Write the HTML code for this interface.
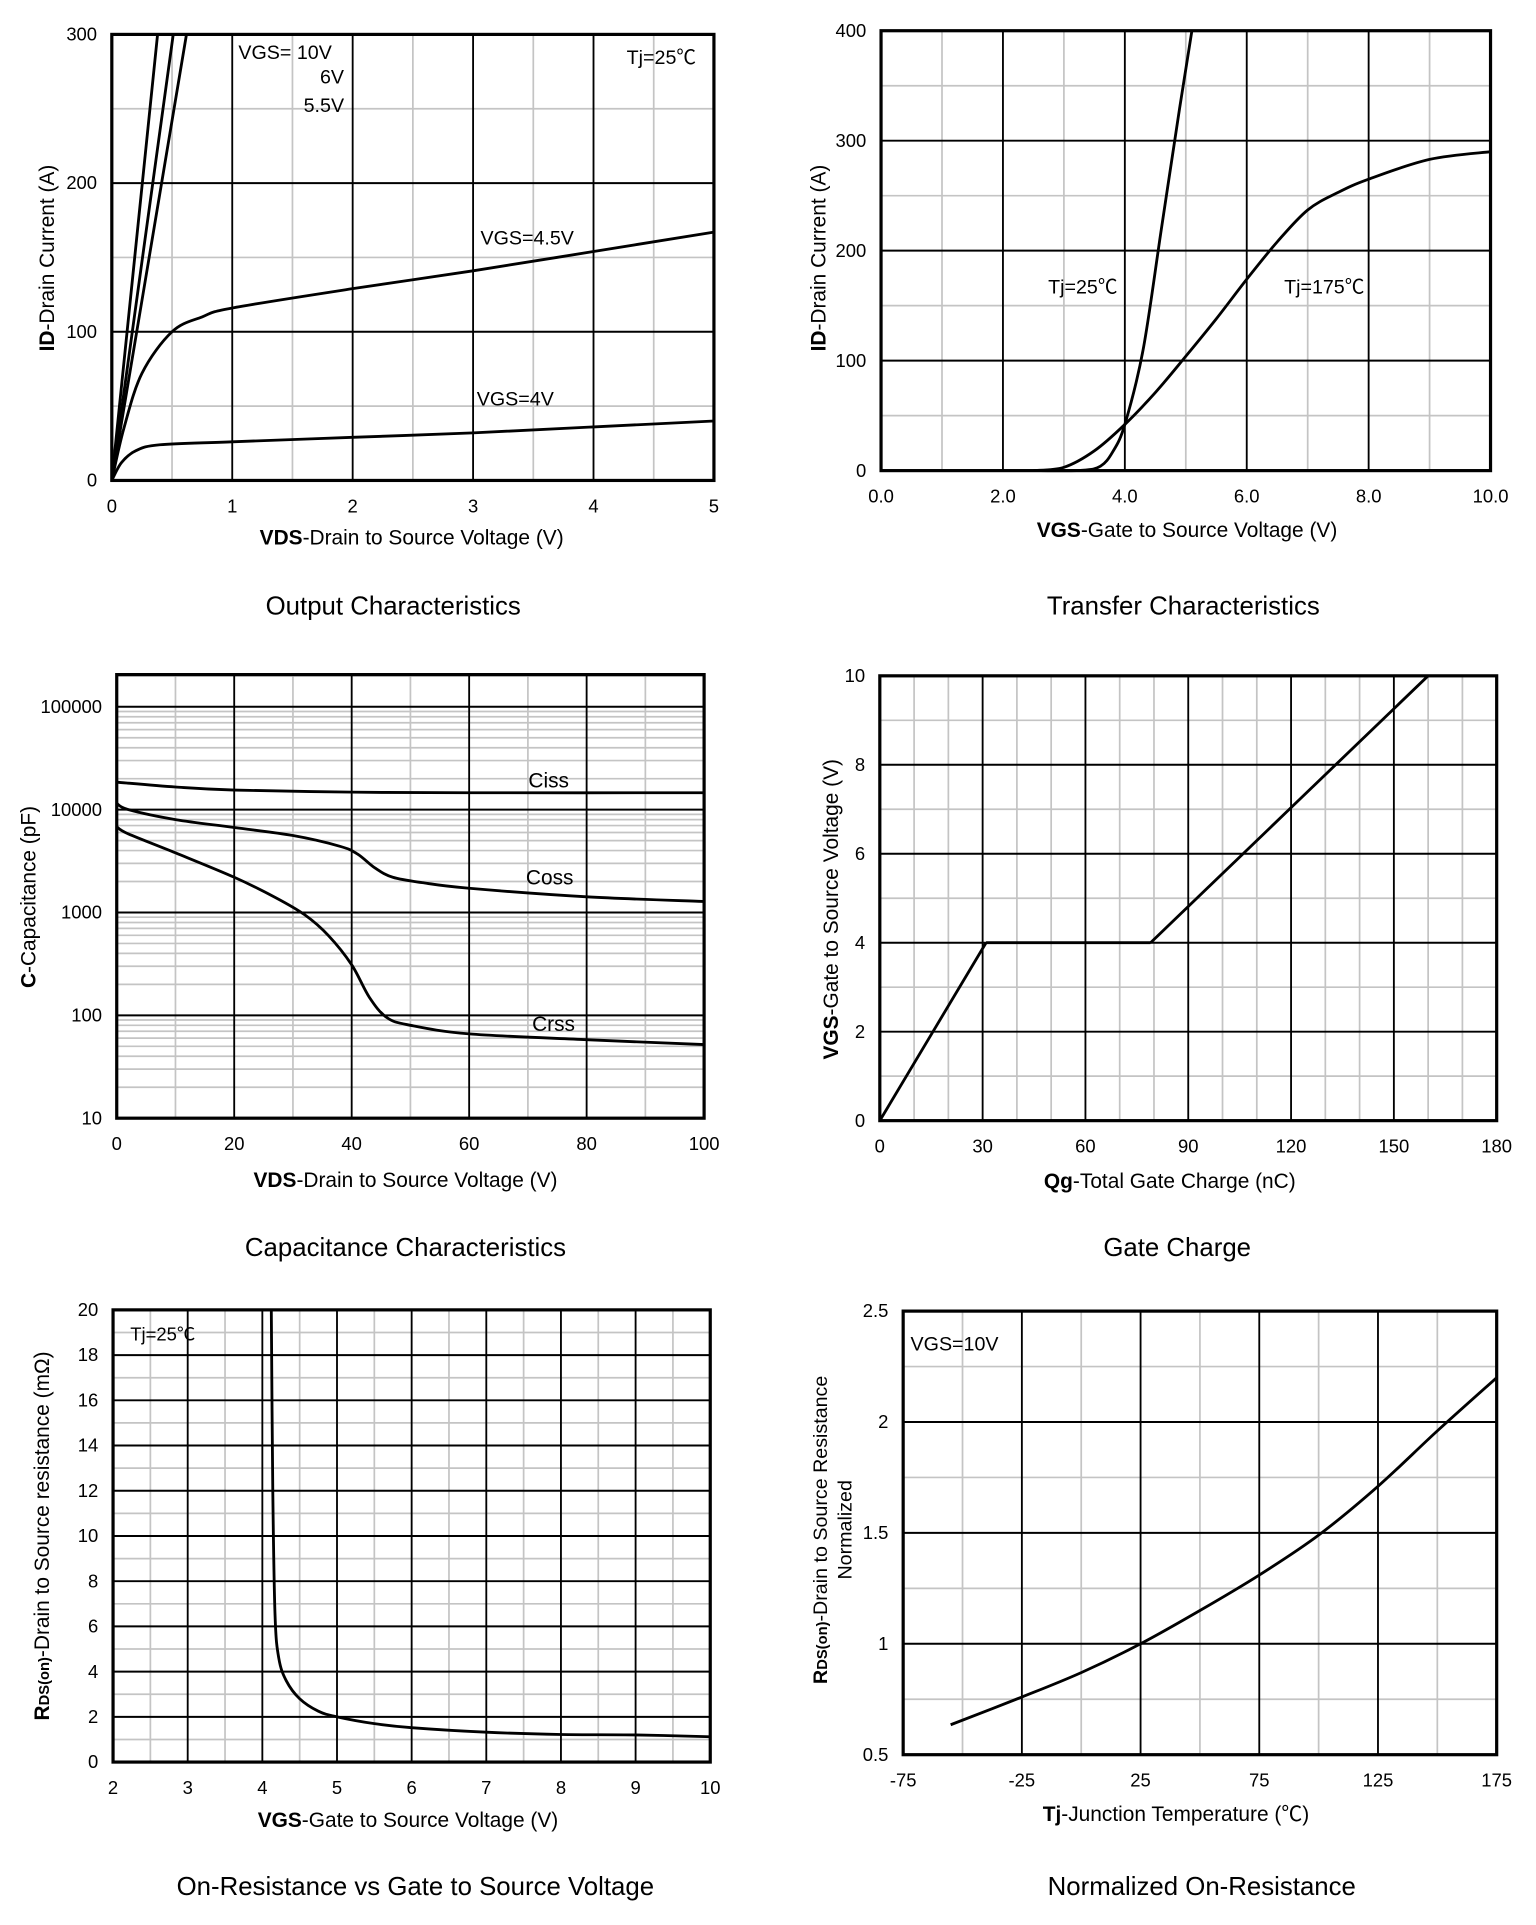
<!DOCTYPE html>
<html><head><meta charset="utf-8"><style>
html,body{margin:0;padding:0;background:#fff}
svg{display:block}
text{font-family:"Liberation Sans","Noto Sans CJK SC",sans-serif;fill:#000}
</style></head><body>
<svg id="s" xmlns="http://www.w3.org/2000/svg" width="1536" height="1925" viewBox="0 0 1250 1566.6" preserveAspectRatio="none"></svg>
<script>
var out=[];
function L(x1,y1,x2,y2,c,w){out.push('<line x1="'+x1+'" y1="'+y1+'" x2="'+x2+'" y2="'+y2+'" stroke="'+c+'" stroke-width="'+w+'"/>');}
function T(x,y,s,size,anchor,extra){out.push('<text x="'+x+'" y="'+y+'" font-size="'+size+'" text-anchor="'+(anchor||'start')+'" '+(extra||'')+'>'+s+'</text>');}
function curve(pts,mx,my){
  var p=pts.map(function(a){return [mx(a[0]),my(a[1])];});
  var d='M'+p[0][0].toFixed(2)+','+p[0][1].toFixed(2);
  for(var i=0;i<p.length-1;i++){
    var p0=p[i-1]||p[i],p1=p[i],p2=p[i+1],p3=p[i+2]||p2;
    var c1=[p1[0]+(p2[0]-p0[0])/6,p1[1]+(p2[1]-p0[1])/6];
    var c2=[p2[0]-(p3[0]-p1[0])/6,p2[1]-(p3[1]-p1[1])/6];
    d+=' C'+c1[0].toFixed(2)+','+c1[1].toFixed(2)+' '+c2[0].toFixed(2)+','+c2[1].toFixed(2)+' '+p2[0].toFixed(2)+','+p2[1].toFixed(2);
  }
  out.push('<path d="'+d+'" fill="none" stroke="#000" stroke-width="2.3" stroke-linejoin="round"/>');
}
function chart(o){
  var mx=function(v){return o.x0+(v-o.xa)/(o.xb-o.xa)*(o.x1-o.x0);};
  var my=o.my||function(v){return o.y1-(v-o.ya)/(o.yb-o.ya)*(o.y1-o.y0);};
  o.xminor.forEach(function(v){L(mx(v),o.y0,mx(v),o.y1,'#c4c4c4',1.4);});
  o.yminor.forEach(function(v){L(o.x0,my(v),o.x1,my(v),'#c4c4c4',1.4);});
  o.xmajor.forEach(function(v){L(mx(v),o.y0,mx(v),o.y1,'#000',1.5);});
  o.ymajor.forEach(function(v){L(o.x0,my(v),o.x1,my(v),'#000',1.6);});
  out.push('<rect x="'+o.x0+'" y="'+o.y0+'" width="'+(o.x1-o.x0)+'" height="'+(o.y1-o.y0)+'" fill="none" stroke="#000" stroke-width="2.6"/>');
  o.xl.forEach(function(a){T(mx(a[0]),o.y1+26,a[1],15,'middle');});
  o.yl.forEach(function(a){T(o.x0-12,my(a[0])+5,a[1],15,'end');});
  o.curves.forEach(function(c){curve(c,mx,my);});
}
function rng(a,b,s){var r=[];for(var v=a;v<=b+1e-9;v+=s)r.push(+v.toFixed(6));return r;}

chart({x0:91,x1:581,y0:28,y1:391,xa:0,xb:5,ya:0,yb:300,
 xminor:rng(0.5,4.5,1),yminor:[50,150,250],xmajor:[1,2,3,4],ymajor:[100,200],
 xl:[[0,'0'],[1,'1'],[2,'2'],[3,'3'],[4,'4'],[5,'5']],yl:[[0,'0'],[100,'100'],[200,'200'],[300,'300']],
 curves:[[[0,0],[0.38,300]],[[0,0],[0.51,300]],[[0,0],[0.62,300]],
 [[0,0],[0.1,35],[0.25,72],[0.5,100],[0.75,110],[1,116],[2,129],[3,141],[4,154],[5,167]],
 [[0,0],[0.08,12],[0.2,20],[0.4,24],[1,26],[2,29],[3,32],[4,36],[5,40]]]});
T(194,48,'VGS= 10V',16);T(280,68,'6V',16,'end');T(280,91,'5.5V',16,'end');
T(510,52,'Tj=25℃',16);T(391,199,'VGS=4.5V',16);T(388,330,'VGS=4V',16);
T(44,210,'<tspan font-weight="bold">ID</tspan>-Drain Current  (A)',17,'middle','transform="rotate(-90 44 210)"');
T(335,443,'<tspan font-weight="bold">VDS</tspan>-Drain to Source Voltage (V)',17,'middle');
T(320,500,'Output Characteristics',21,'middle');

chart({x0:717,x1:1213,y0:25,y1:383,xa:0,xb:10,ya:0,yb:400,
 xminor:[1,3,5,7,9],yminor:[50,150,250,350],xmajor:[2,4,6,8],ymajor:[100,200,300],
 xl:[[0,'0.0'],[2,'2.0'],[4,'4.0'],[6,'6.0'],[8,'8.0'],[10,'10.0']],yl:[[0,'0'],[100,'100'],[200,'200'],[300,'300'],[400,'400']],
 curves:[[[2.6,0],[3.3,0.3],[3.6,4],[3.8,17],[4,42],[4.3,110],[4.6,220],[4.9,330],[5.1,400]],
 [[2.5,0],[3,3],[3.5,18],[4,42],[4.5,71],[5,104],[5.5,138],[6,174],[6.5,208],[7,237],[7.5,253],[8,265],[9,283],[10,290]]]});
T(853,239,'Tj=25℃',16);T(1045,239,'Tj=175℃',16);
T(672,210,'<tspan font-weight="bold">ID</tspan>-Drain Current  (A)',17,'middle','transform="rotate(-90 672 210)"');
T(966,437,'<tspan font-weight="bold">VGS</tspan>-Gate to Source Voltage (V)',17,'middle');
T(963,500,'Transfer Characteristics',21,'middle');

(function(){
 var y10=910,dec=83.7;
 var my=function(v){return y10-(Math.log10(v)-1)*dec;};
 var ymin=[];for(var d=1;d<=5;d++)for(var k=2;k<=9;k++){var v=k*Math.pow(10,d);if(my(v)>549)ymin.push(v);}
 chart({x0:95,x1:573,y0:549,y1:910,xa:0,xb:100,my:my,
 xminor:[10,30,50,70,90],yminor:ymin,xmajor:[20,40,60,80],ymajor:[100,1000,10000,100000],
 xl:[[0,'0'],[20,'20'],[40,'40'],[60,'60'],[80,'80'],[100,'100']],yl:[[10,'10'],[100,'100'],[1000,'1000'],[10000,'10000'],[100000,'100000']],
 curves:[[[0,18500],[10,16600],[20,15500],[40,14800],[60,14600],[100,14600]],
 [[0,11500],[2,10000],[10,8000],[20,6700],[30,5600],[38,4400],[41,3700],[44,2700],[47,2200],[52,1950],[60,1720],[80,1420],[100,1280]],
 [[0,6800],[2,5800],[10,3800],[20,2200],[27,1400],[32,950],[36,600],[40,310],[43,150],[46,95],[50,80],[60,66],[80,58],[100,52]]]});
})();
T(430,641,'Ciss',17);T(428,720,'Coss',17);T(433,839,'Crss',17);
T(29,730,'<tspan font-weight="bold">C</tspan>-Capacitance (pF)',17,'middle','transform="rotate(-90 29 730)"');
T(330,966,'<tspan font-weight="bold">VDS</tspan>-Drain to Source Voltage (V)',17,'middle');
T(330,1022,'Capacitance Characteristics',21,'middle');

chart({x0:716,x1:1218,y0:550,y1:912,xa:0,xb:180,ya:0,yb:10,
 xminor:[10,20,40,50,70,80,100,110,130,140,160,170],yminor:[1,3,5,7,9],xmajor:[30,60,90,120,150],ymajor:[2,4,6,8],
 xl:[[0,'0'],[30,'30'],[60,'60'],[90,'90'],[120,'120'],[150,'150'],[180,'180']],yl:[[0,'0'],[2,'2'],[4,'4'],[6,'6'],[8,'8'],[10,'10']],
 curves:[[[0,0],[31,4]],[[31,4],[79,4]],[[79,4],[160,10]]]});
T(682,740,'<tspan font-weight="bold">VGS</tspan>-Gate to Source Voltage (V)',17,'middle','transform="rotate(-90 682 740)"');
T(952,967,'<tspan font-weight="bold">Qg</tspan>-Total  Gate Charge (nC)',17,'middle');
T(958,1022,'Gate Charge',21,'middle');

chart({x0:92,x1:578,y0:1066,y1:1434,xa:2,xb:10,ya:0,yb:20,
 xminor:rng(2.5,9.5,1),yminor:rng(1,19,2),xmajor:[3,4,5,6,7,8,9],ymajor:rng(2,18,2),
 xl:[[2,'2'],[3,'3'],[4,'4'],[5,'5'],[6,'6'],[7,'7'],[8,'8'],[9,'9'],[10,'10']],yl:rng(0,20,2).map(function(v){return [v,''+v];}),
 curves:[[[4.12,20],[4.14,12],[4.17,6.5],[4.22,4.6],[4.32,3.6],[4.5,2.8],[4.75,2.25],[5,2],[5.5,1.7],[6,1.52],[7,1.32],[8,1.22],[9,1.2],[10,1.12]]]});
T(106,1091,'Tj=25℃',15);
T(40,1250,'<tspan font-weight="bold">R<tspan font-size="12">DS(on)</tspan></tspan>-Drain to Source resistance (mΩ)',17,'middle','transform="rotate(-90 40 1250)"');
T(332,1487,'<tspan font-weight="bold">VGS</tspan>-Gate to Source Voltage (V)',17,'middle');
T(338,1542,'On-Resistance vs Gate to Source Voltage',21,'middle');

chart({x0:735,x1:1218,y0:1067,y1:1428,xa:-75,xb:175,ya:0.5,yb:2.5,
 xminor:[-50,0,50,100,150],yminor:[0.75,1.25,1.75,2.25],xmajor:[-25,25,75,125],ymajor:[1,1.5,2],
 xl:[[-75,'-75'],[-25,'-25'],[25,'25'],[75,'75'],[125,'125'],[175,'175']],yl:[[0.5,'0.5'],[1,'1'],[1.5,'1.5'],[2,'2'],[2.5,'2.5']],
 curves:[[[-55,0.635],[-25,0.76],[0,0.87],[25,1.0],[50,1.15],[75,1.31],[100,1.49],[125,1.71],[150,1.96],[175,2.2]]]});
T(741,1099,'VGS=10V',16);
T(673,1245,'<tspan font-weight="bold">R<tspan font-size="12">DS(on)</tspan></tspan>-Drain to Source Resistance',16,'middle','transform="rotate(-90 673 1245)"');
T(693,1245,'Normalized',16,'middle','transform="rotate(-90 693 1245)"');
T(957,1482,'<tspan font-weight="bold">Tj</tspan>-Junction  Temperature  (℃)',17,'middle');
T(978,1542,'Normalized On-Resistance',21,'middle');

document.getElementById('s').innerHTML=out.join('');
</script>
</body></html>
